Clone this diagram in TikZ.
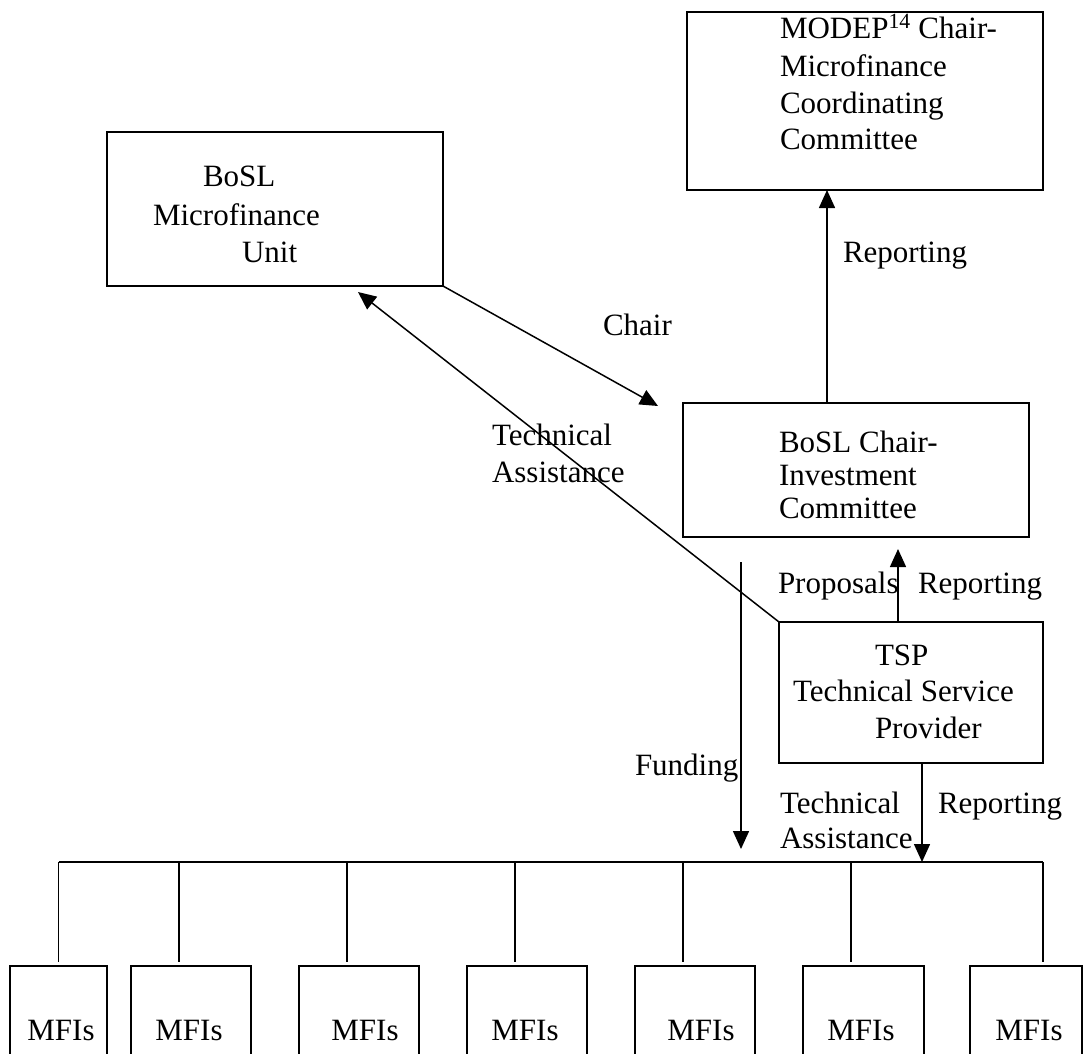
\documentclass[tikz,border=0pt]{standalone}
\usepackage{fontspec}
\setmainfont{Liberation Serif}
\usetikzlibrary{arrows.meta}
\begin{document}
\begin{tikzpicture}[x=1pt,y=-1pt,
  every node/.style={inner sep=0pt,outer sep=0pt,font=\fontsize{31pt}{37pt}\selectfont},
  box/.style={draw,line width=1.6pt,rectangle},
  conn/.style={line width=1.5pt},
  arr/.style={line width=1.5pt,-{Triangle[length=18pt,width=16pt]}},
  lbl/.style={anchor=base west},
  mfitext/.style={anchor=base}]
\useasboundingbox (0,0) rectangle (1084,1053);
\clip (0,0) rectangle (1084,1053);
\fill[white] (0,0) rectangle (1084,1053);

% boxes
\node[box,minimum width=356pt,minimum height=178pt] (modep) at (865,101) {};
\node[box,minimum width=336pt,minimum height=154pt] (bmu) at (275,209) {};
\node[box,minimum width=346pt,minimum height=134pt] (bic) at (856,470) {};
\node[box,minimum width=264pt,minimum height=141pt] (tsp) at (911,692.5) {};

% box texts
\node[lbl] (m1) at (780,38) {MODEP\textsuperscript{14} Chair-};
\node[lbl] (m2) at (780,76) {Microfinance};
\node[lbl] (m3) at (780,113) {Coordinating};
\node[lbl] (m4) at (780,149) {Committee};

\node[lbl] (u1) at (203,186) {BoSL};
\node[lbl] (u2) at (153,225) {Microfinance};
\node[lbl] (u3) at (242,262) {Unit};

\node[lbl] (c1) at (779,452) {BoSL Chair-};
\node[lbl] (c2) at (779,485) {Investment};
\node[lbl] (c3) at (779,518) {Committee};

\node[lbl] (t1) at (875,665) {TSP};
\node[lbl] (t2) at (793,701) {Technical Service};
\node[lbl] (t3) at (875,738) {Provider};

% MFI boxes
\foreach \n/\l/\r in {1/10/107,2/131/251,3/299/419,4/467/587,5/635/755,6/803/924,7/970/1082}{
  \node[box,anchor=north west,minimum width={\r-\l},minimum height=120pt] (mfi\n) at (\l,966) {};
}
\foreach \n/\c in {1/61,2/189,3/365,4/525,5/701,6/861,7/1029}{
  \node[mfitext] (mt\n) at (\c,1040) {MFIs};
}

% coordinates
\coordinate (chairtip) at (658,406);
\coordinate (tatip) at (358,292);
\coordinate (r1) at (827,0);
\coordinate (r2) at (898,0);
\coordinate (proptip) at (898,549);
\coordinate (fundtop) at (741,562);
\coordinate (fundtip) at (741,849);
\coordinate (r3) at (922,0);
\coordinate (busl) at (58.5,862);
\coordinate (busr) at (1043,862);

% connectors
\draw[arr] (bmu.south east) -- (chairtip);
\draw[arr] (tsp.north west) -- (tatip);
\draw[arr] (r1 |- bic.north) -- (r1 |- modep.south);
\draw[arr] (r2 |- tsp.north) -- (proptip);
\draw[arr] (fundtop) -- (fundtip);
\draw[arr] (r3 |- tsp.south) -- (r3 |- busl);
\draw[conn] (busl) -- (busr);
\foreach \n/\x in {1/58.5,2/179,3/347,4/515,5/683,6/851,7/1043}{
  \draw[conn] (\x,862) -- ([yshift=4pt]\x,966) coordinate (drop\n);
}

% labels
\node[lbl] (lchair) at (603,335) {Chair};
\node[lbl] (lrep1) at (843,262) {Reporting};
\node[lbl] (lta1) at (492,445) {Technical};
\node[lbl] (lta2) at (492,482) {Assistance};
\node[lbl] (lprop) at (778,593) {Proposals};
\node[lbl] (lrep2) at (918,593) {Reporting};
\node[lbl] (lfund) at (635,775) {Funding};
\node[lbl] (lta3) at (780,813) {Technical};
\node[lbl] (lta4) at (780,848) {Assistance};
\node[lbl] (lrep3) at (938,813) {Reporting};
\end{tikzpicture}
\end{document}
